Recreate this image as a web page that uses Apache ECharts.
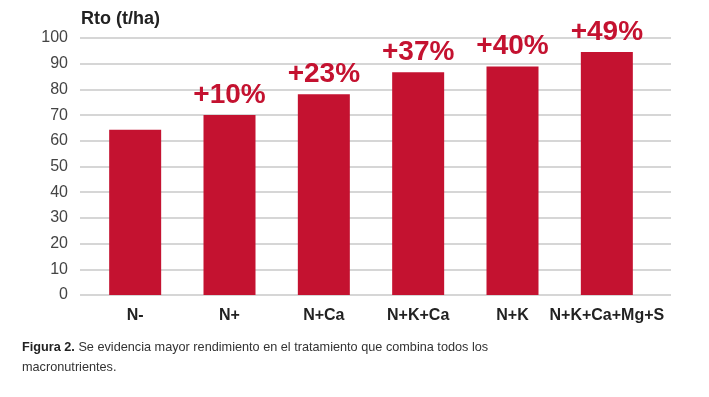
<!DOCTYPE html>
<html>
<head>
<meta charset="utf-8">
<script src="https://cdn.jsdelivr.net/npm/echarts@6/dist/echarts.min.js"></script>
<style>
  html, body { margin: 0; padding: 0; background: #fff; }
  #chart { width: 709px; height: 397px; }
</style>
</head>
<body>
<div id="chart"></div>
<script>
// datos
var categories = ['N-', 'N+', 'N+Ca', 'N+K+Ca', 'N+K', 'N+K+Ca+Mg+S'];
var rendimiento = [64.3, 70.0, 78.1, 86.7, 88.9, 94.6];
var incrementos = ['', '+10%', '+23%', '+37%', '+40%', '+49%'];
var yTicks = [0, 10, 20, 30, 40, 50, 60, 70, 80, 90, 100];

var rojo = '#c41230';

var myChart = echarts.init(document.getElementById('chart'));

var option = {
    backgroundColor: '#fff',
    textStyle: { fontFamily: 'Liberation Sans' },
    title: {
        text: 'Rto (t/ha)',
        left: 76,
        top: 5,
        textStyle: { fontSize: 18, fontWeight: 'bold', color: '#222' }
    },
    grid: [
        { left: 80, right: 38, top: 38, bottom: 102 },
        { left: 88, right: 55, top: 38, bottom: 102 }
    ],
    xAxis: [
        { gridIndex: 0, type: 'category', data: categories, show: false },
        {
            gridIndex: 1,
            type: 'category',
            data: categories,
            axisLine: { show: false },
            axisTick: { show: false },
            axisLabel: {
                interval: 0,
                margin: 13,
                fontSize: 16,
                fontWeight: 'bold',
                color: '#222'
            }
        }
    ],
    yAxis: [
        {
            gridIndex: 0,
            type: 'value',
            min: yTicks[0],
            max: yTicks[yTicks.length - 1],
            interval: 10,
            axisLine: { show: false },
            axisTick: { show: false },
            axisLabel: { margin: 12, fontSize: 16, color: '#444' },
            splitLine: { lineStyle: { color: '#c8c8c8', width: 1.5 } }
        },
        {
            gridIndex: 1,
            type: 'value',
            min: yTicks[0],
            max: yTicks[yTicks.length - 1],
            interval: 10,
            show: false
        }
    ],
    series: [
        {
            type: 'bar',
            xAxisIndex: 1,
            yAxisIndex: 1,
            data: rendimiento,
            barWidth: 52,
            itemStyle: { color: rojo },
            label: {
                show: true,
                position: 'top',
                distance: 6,
                formatter: function (p) { return incrementos[p.dataIndex]; },
                fontSize: 28,
                fontWeight: 'bold',
                color: rojo
            }
        }
    ],
    graphic: [
        {
            type: 'text',
            left: 22,
            top: 337,
            style: {
                text: '{b|Figura 2.} Se evidencia mayor rendimiento en el tratamiento que combina todos los\nmacronutrientes.',
                font: '12.7px "Liberation Sans"',
                fill: '#333',
                lineHeight: 20,
                rich: {
                    b: { fontWeight: 'bold', fontSize: 12.7, fill: '#222', lineHeight: 20 }
                }
            }
        }
    ]
};

myChart.setOption(option);
</script>
</body>
</html>
